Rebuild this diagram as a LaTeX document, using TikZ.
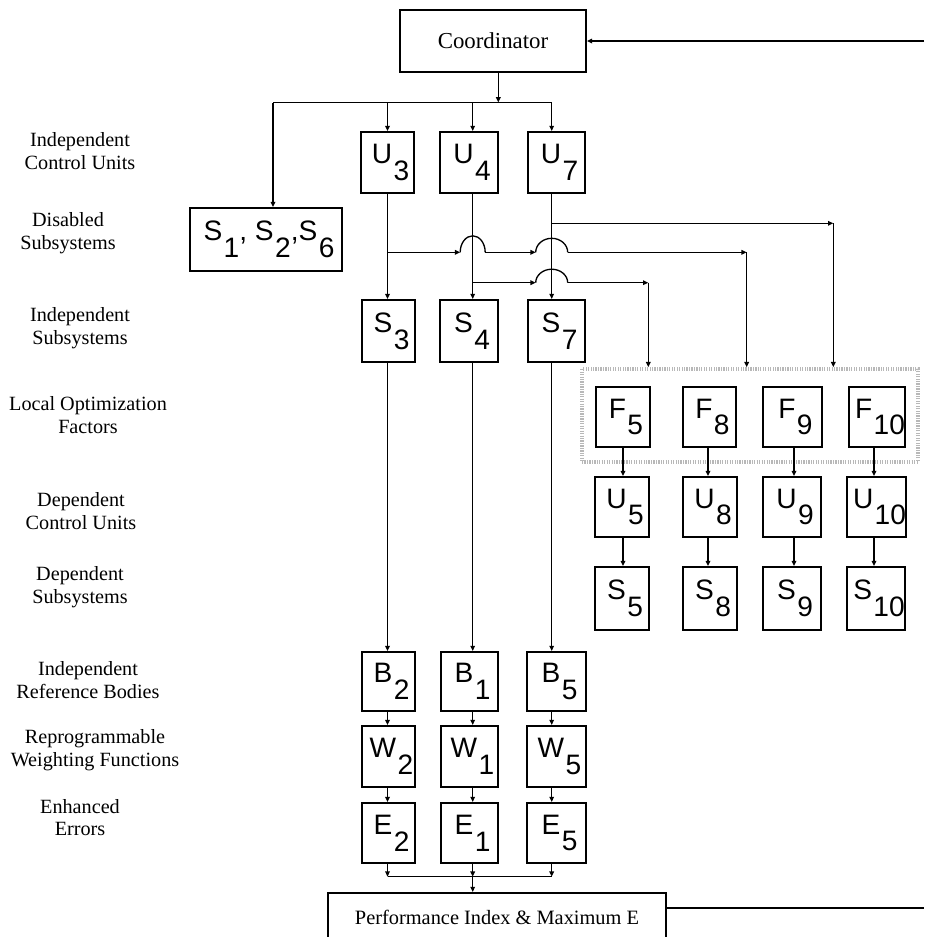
\documentclass[tikz,border=0pt]{standalone}
\usepackage{fontspec}
\setmainfont{Liberation Serif}
\newfontfamily\blockfont{Liberation Sans}
\usetikzlibrary{arrows.meta,calc}

% letter with a lowered, full-size index
\newcommand\sx[2]{#1\kern0.8pt\raisebox{-9.6pt}{#2}}
\newcommand\idx[2]{\kern3.4pt\sx{#1}{#2}}
% block given by its corners (x1,y1)-(x2,y2) in pixel units
\newcommand\blk[6]{%
  \node[block, minimum width={(#4-#2)*0.02cm}, minimum height={(#5-#3)*0.02cm}]
    (#1) at ({(#2+#4)/2},{(#3+#5)/2}) {#6};}

\begin{document}
\begin{tikzpicture}[x=0.02cm, y=-0.02cm,
  wire/.style={line width=0.75pt},
  arr/.style={wire, -{Triangle[length=3pt,width=2.6pt]}},
  block/.style={draw, line width=1.1pt, inner sep=0pt,
    font=\blockfont\fontsize{16}{16}\selectfont},
  titlebox/.style={draw, line width=1.1pt, inner sep=0pt},
  rowname/.style={align=center, inner sep=0pt, font=\fontsize{11.5}{13}\selectfont},
  groupbox/.style={draw=black!28, line width=2pt, dash pattern=on 0.7pt off 0.7pt, inner sep=0pt}]
\clip (0,0) rectangle (924,937);

% ---- row names ----
\node[rowname] (rn1) at (80,151)   {Independent\\Control Units};
\node[rowname] (rn2) at (68,233.5) {Disabled\\Subsystems};
\node[rowname] (rn3) at (80,328.5) {Independent\\Subsystems};
\node[rowname] (rn4) at (88,415)   {Local Optimization\\Factors};
\node[rowname] (rn5) at (81,511.5) {Dependent\\Control Units};
\node[rowname] (rn6) at (80,587.5) {Dependent\\Subsystems};
\node[rowname] (rn7) at (88,680)   {Independent\\Reference Bodies};
\node[rowname] (rn8) at (95,750)   {Reprogrammable\\Weighting Functions};
\node[rowname] (rn9) at (80,817.5) {Enhanced\\Errors};

% ---- coordinator and performance index ----
\node[titlebox, minimum width=3.72cm, minimum height=1.24cm,
      font=\fontsize{13}{15}\selectfont] (coord) at (493,41) {Coordinator};
\node[titlebox, minimum width=6.76cm, minimum height=0.96cm,
      font=\fontsize{11.6}{14}\selectfont] (perf) at (497,917) {Performance Index \& Maximum E};

% ---- independent columns ----
\blk{U3}{361}{132}{414}{193}{\idx{U}{3}}
\blk{U4}{440}{132}{498}{193}{\idx{U}{4}}
\blk{U7}{528}{132}{585}{193}{\idx{U}{7}}
\blk{S126}{190}{208}{342}{271}{\kern3.4pt\sx{S}{1},\ \sx{S}{2},\sx{S}{6}}
\blk{S3}{362}{300}{415}{362}{\idx{S}{3}}
\blk{S4}{440}{300}{498}{362}{\idx{S}{4}}
\blk{S7}{528}{300}{585}{362}{\idx{S}{7}}
\blk{B2}{362}{652}{415}{711}{\idx{B}{2}}
\blk{B1}{441}{652}{498}{711}{\idx{B}{1}}
\blk{B5}{527}{652}{586}{711}{\idx{B}{5}}
\blk{W2}{362}{726}{415}{787}{\idx{W}{2}}
\blk{W1}{441}{726}{498}{787}{\idx{W}{1}}
\blk{W5}{527}{726}{586}{787}{\idx{W}{5}}
\blk{E2}{362}{803}{415}{863}{\idx{E}{2}}
\blk{E1}{441}{803}{498}{863}{\idx{E}{1}}
\blk{E5}{527}{803}{586}{863}{\idx{E}{5}}

% ---- dependent columns ----
\node[groupbox, minimum width=6.72cm, minimum height=1.86cm] (Fgrp) at (750,415.5) {};
\blk{F5}{596}{387}{650}{447}{\idx{F}{5}}
\blk{F8}{683}{387}{736}{447}{\idx{F}{8}}
\blk{F9}{763}{387}{822}{447}{\idx{F}{9}}
\blk{F10}{849}{387}{905}{447}{\idx{F}{10}}
\blk{U5}{595}{477}{649}{537}{\idx{U}{5}}
\blk{U8}{683}{477}{737}{537}{\idx{U}{8}}
\blk{U9}{763}{477}{821}{537}{\idx{U}{9}}
\blk{U10}{849}{477}{904}{537}{\idx{U}{10}}
\blk{S5}{595}{567}{649}{630}{\idx{S}{5}}
\blk{S8}{683}{567}{737}{630}{\idx{S}{8}}
\blk{S9}{763}{567}{821}{630}{\idx{S}{9}}
\blk{S10}{849}{567}{903}{630}{\idx{S}{10}}

% ---- reference points ----
\coordinate (cA) at (387.5,0);
\coordinate (cB) at (472.7,0);
\coordinate (cC) at (551.7,0);
\coordinate (hub) at (498.3,102.5);
\coordinate (hubL) at (273,102.5);
\coordinate (hubR) at (551.7,102.5);
\coordinate (fbin) at (924,41);
\coordinate (fbout) at (924,908);
\coordinate (t7) at (551.7,223.3);
\coordinate (k10) at (833.3,223.3);
\coordinate (t3) at (387.5,252.3);
\coordinate (k8) at (746.7,252.3);
\coordinate (t4) at (472.7,282.7);
\coordinate (k5) at (648.3,282.7);
\coordinate (jn) at (472.7,876.7);
\coordinate (d5) at (623,0);
\coordinate (d8) at (708,0);
\coordinate (d9) at (794,0);
\coordinate (d10) at (874,0);

% ---- feedback ends ----
\draw[arr] (fbin) -- (coord.east |- fbin);
\draw[wire] (perf.east |- fbout) -- (fbout);

% ---- distribution from the coordinator ----
\draw[arr] (coord.south -| hub) -- (hub);
\draw[wire] (hubL) -- (hubR);
\draw[arr] (hubL) -- (hubL |- S126.north);
\draw[arr] (hub -| cA) -- (U3.north -| cA);
\draw[arr] (hub -| cB) -- (U4.north -| cB);
\draw[arr] (hubR) -- (U7.north -| cC);

% ---- independent chains ----
\draw[arr] (U3.south -| cA) -- (S3.north -| cA);
\draw[arr] (U4.south -| cB) -- (S4.north -| cB);
\draw[arr] (U7.south -| cC) -- (S7.north -| cC);
\draw[arr] (S3.south -| cA) -- (B2.north -| cA);
\draw[arr] (S4.south -| cB) -- (B1.north -| cB);
\draw[arr] (S7.south -| cC) -- (B5.north -| cC);
\draw[arr] (B2.south -| cA) -- (W2.north -| cA);
\draw[arr] (B1.south -| cB) -- (W1.north -| cB);
\draw[arr] (B5.south -| cC) -- (W5.north -| cC);
\draw[arr] (W2.south -| cA) -- (E2.north -| cA);
\draw[arr] (W1.south -| cB) -- (E1.north -| cB);
\draw[arr] (W5.south -| cC) -- (E5.north -| cC);
\draw[arr] (E2.south -| cA) -- (jn -| cA);
\draw[arr] (E1.south -| cB) -- (jn);
\draw[arr] (E5.south -| cC) -- (jn -| cC);
\draw[wire] (jn -| cA) -- (jn -| cC);
\draw[arr] (jn) -- (perf.north -| jn);

% ---- branches to the local optimization factors ----
\draw[arr] (t7) -- (k10);
\draw[arr] (k10) -- (k10 |- Fgrp.north);

\draw[arr] (t3) -- ($(t3 -| cB)+(-12.5,0)$);
\draw[wire] ($(t3 -| cB)+(-12.5,0)$) arc[start angle=180, end angle=0, x radius=0.25cm, y radius=0.33cm];
\draw[arr] ($(t3 -| cB)+(12.5,0)$) -- ($(t3 -| cC)+(-16,0)$);
\draw[wire] ($(t3 -| cC)+(-16,0)$) arc[start angle=180, end angle=0, x radius=0.32cm, y radius=0.28cm];
\draw[arr] ($(t3 -| cC)+(16,0)$) -- (k8);
\draw[arr] (k8) -- (k8 |- Fgrp.north);

\draw[arr] (t4) -- ($(t4 -| cC)+(-16,0)$);
\draw[wire] ($(t4 -| cC)+(-16,0)$) arc[start angle=180, end angle=0, x radius=0.32cm, y radius=0.27cm];
\draw[arr] ($(t4 -| cC)+(16,0)$) -- (k5);
\draw[arr] (k5) -- (k5 |- Fgrp.north);

% ---- dependent chains ----
\draw[arr] (F5.south -| d5) -- (U5.north -| d5);
\draw[arr] (F8.south -| d8) -- (U8.north -| d8);
\draw[arr] (F9.south -| d9) -- (U9.north -| d9);
\draw[arr] (F10.south -| d10) -- (U10.north -| d10);
\draw[arr] (U5.south -| d5) -- (S5.north -| d5);
\draw[arr] (U8.south -| d8) -- (S8.north -| d8);
\draw[arr] (U9.south -| d9) -- (S9.north -| d9);
\draw[arr] (U10.south -| d10) -- (S10.north -| d10);
\end{tikzpicture}
\end{document}
